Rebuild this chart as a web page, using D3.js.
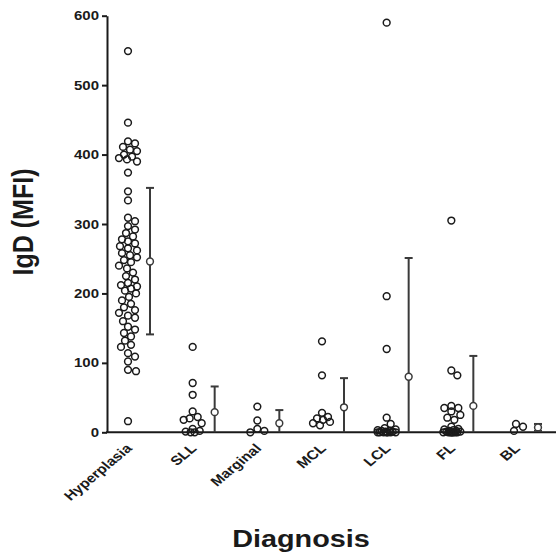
<!DOCTYPE html>
<html>
<head>
<meta charset="utf-8">
<script src="https://cdn.jsdelivr.net/npm/d3@7"></script>
<style>
  html, body { margin: 0; padding: 0; background: #fff; }
  svg { display: block; font-family: "Liberation Sans", Arial, sans-serif; }
</style>
</head>
<body>
<svg id="chart" width="559" height="556"></svg>
<script>
// ---------------- data ----------------
const categories = ["Hyperplasia", "SLL", "Marginal", "MCL", "LCL", "FL", "BL"];

const hyperplasia = [549, 446, 419, 416, 411, 407, 405, 400, 397, 395, 393, 390, 374, 347, 334,
  309, 304, 297, 292, 287, 282, 278, 275, 272, 268, 265, 262, 258, 255, 252, 248, 245, 240,
  236, 230, 225, 220, 215, 212, 210, 207, 204, 200, 195, 190, 185, 180, 176, 172, 168, 165,
  160, 152, 148, 143, 138, 132, 126, 123, 114, 109, 102, 90, 88, 16];
const sll = [123, 71, 54, 30, 22, 20, 18, 13, 5, 2, 1, 0, 0];
const marginal = [37, 17, 5, 2, 0];
const mcl = [131, 82, 28, 22, 20, 18, 15, 13, 10];
const lcl = [590, 196, 120, 21, 12, 6, 4, 3, 2, 2, 1, 1, 0, 0, 0, 0, 0, 0, 0];
const fl = [305, 89, 82, 38, 35, 35, 30, 25, 21, 18, 8, 5, 4, 3, 2, 2, 1, 1, 0, 0, 0, 0, 0, 0, 0, 0];
const bl = [12, 8, 2];

const means   = [246, 29, 13, 36, 80, 38, 7];
const sdUpper = [352, 66, 32, 78, 251, 110, 12];
const sdLower = [141, 0, 0, 0, 0, 0, 2];

const yTicks = [0, 100, 200, 300, 400, 500, 600];
const yTitle = "IgD (MFI)";
const xTitle = "Diagnosis";

// ---------------- layout ----------------
const groups = [hyperplasia, sll, marginal, mcl, lcl, fl, bl];
const svg = d3.select("#chart");
const ink = "#1a1a1a";
const barInk = "#3a3a3a";
const SX = 1.2; // horizontal stretch seen in the reference's text

const y = d3.scaleLinear().domain([0, 600]).range([432.3, 15.7]);
const x = d3.scalePoint().domain(categories).range([128, 516]);
const barOffset = 22;
const axisX = 107;
const axisRight = 556;
const r = 3.4;

// y axis
const yAxis = svg.append("g")
  .attr("transform", `translate(${axisX},0)`)
  .call(d3.axisLeft(y).tickValues(yTicks).tickSize(5).tickSizeOuter(0).tickPadding(3));
yAxis.select(".domain").attr("stroke", ink).attr("stroke-width", 2);
yAxis.selectAll(".tick line").attr("stroke", ink).attr("stroke-width", 2);
yAxis.selectAll(".tick text")
  .attr("fill", ink)
  .attr("font-size", 12.5)
  .attr("font-weight", "bold")
  .attr("font-family", "'Liberation Sans', Arial, sans-serif")
  .attr("transform", function () {
    const xx = +d3.select(this).attr("x");
    return `translate(${xx},0) scale(${SX},1) translate(${-xx},0)`;
  });

// x axis line
svg.append("line")
  .attr("x1", axisX - 1).attr("x2", axisRight)
  .attr("y1", y(0)).attr("y2", y(0))
  .attr("stroke", ink).attr("stroke-width", 2);

// bounded beeswarm layout: points spread sideways up to maxOff, then overlap
function swarm(values, cx) {
  const placed = [];
  const sorted = values.slice().sort((a, b) => b - a);
  const maxOff = 9;
  const minD = r * 2.1;
  const offs = [0];
  for (let k = 1; k <= maxOff; k++) { offs.push(k, -k); }
  sorted.forEach(v => {
    const py = y(v);
    let best = 0, bestScore = -1;
    for (const off of offs) {
      const px = cx + off;
      let md = Infinity;
      placed.forEach(p => { md = Math.min(md, Math.hypot(p.x - px, p.y - py)); });
      if (md >= minD) { best = off; bestScore = Infinity; break; }
      if (md > bestScore + 0.5) { bestScore = md; best = off; }
    }
    placed.push({ x: cx + best, y: py, v });
  });
  return placed;
}

categories.forEach((c, i) => {
  const cx = x(c);
  const pts = swarm(groups[i], cx);
  svg.append("g").selectAll("circle")
    .data(pts).join("circle")
    .attr("cx", d => d.x).attr("cy", d => d.y).attr("r", r)
    .attr("fill", "none").attr("stroke", ink).attr("stroke-width", 1.5);

  // mean ± SD
  const bx = cx + barOffset;
  const g = svg.append("g").attr("stroke", barInk).attr("stroke-width", 2).attr("fill", "none");
  g.append("line").attr("x1", bx).attr("x2", bx)
    .attr("y1", y(sdLower[i])).attr("y2", y(sdUpper[i]));
  g.append("line").attr("x1", bx - 4).attr("x2", bx + 4)
    .attr("y1", y(sdUpper[i])).attr("y2", y(sdUpper[i]));
  if (sdLower[i] > 0) {
    g.append("line").attr("x1", bx - 4).attr("x2", bx + 4)
      .attr("y1", y(sdLower[i])).attr("y2", y(sdLower[i]));
  }
  g.append("circle").attr("cx", bx).attr("cy", y(means[i])).attr("r", r)
    .attr("fill", "#fff").attr("stroke-width", 1.5);

  // category label, rotated
  const lx = cx + 1, ly = 446;
  svg.append("text")
    .attr("transform", `translate(${lx},${ly}) scale(${SX},1) rotate(-45)`)
    .attr("text-anchor", "end")
    .attr("dy", "0.35em")
    .attr("font-size", 13)
    .attr("font-weight", "bold")
    .attr("fill", ink)
    .text(c);
});

// axis titles
svg.append("text")
  .attr("transform", `translate(33,222) scale(${SX},1) rotate(-90)`)
  .attr("text-anchor", "middle")
  .attr("font-size", 25)
  .attr("font-weight", "bold")
  .attr("fill", ink)
  .text(yTitle);

svg.append("text")
  .attr("transform", `translate(301,547) scale(${SX},1)`)
  .attr("text-anchor", "middle")
  .attr("font-size", 24)
  .attr("font-weight", "bold")
  .attr("fill", ink)
  .text(xTitle);
</script>
</body>
</html>
